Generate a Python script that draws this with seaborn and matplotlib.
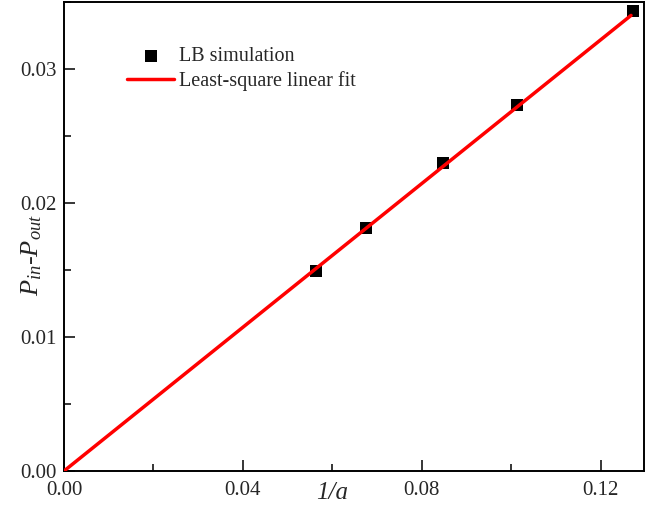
import numpy as np
import pandas as pd
import matplotlib
matplotlib.use("Agg")
import matplotlib.pyplot as plt
import seaborn as sns
from matplotlib.ticker import MultipleLocator

sns.set_style("ticks")
plt.rcParams["font.family"] = ["Liberation Serif", "DejaVu Serif"]
plt.rcParams["mathtext.fontset"] = "custom"
plt.rcParams["mathtext.rm"] = "Liberation Serif"
plt.rcParams["mathtext.it"] = "Liberation Serif:italic"

# LB simulation points
inv_a = [0.0563, 0.0675, 0.0848, 0.1012, 0.1272]
dp = [0.0149, 0.0181, 0.0230, 0.0273, 0.0343]

# least-square linear fit line end points
fit_x = [0.0, 0.1268]
fit_y = [0.0, 0.0340]

pts = pd.DataFrame({"x": inv_a, "y": dp})
fit = pd.DataFrame({"x": fit_x, "y": fit_y})

fig = plt.figure(figsize=(6.55, 5.11), dpi=100)
ax = fig.add_axes([64 / 655, 1 - 471 / 511, 580 / 655, 469 / 511])

sns.scatterplot(data=pts, x="x", y="y", marker="s", s=70, color="black",
                edgecolor="black", linewidth=0, ax=ax, label="LB simulation", zorder=2)
sns.lineplot(data=fit, x="x", y="y", color="red", linewidth=2.5, ax=ax,
             label="Least-square linear fit", zorder=3)

ax.set_xlim(0, 0.1297)
ax.set_ylim(0, 0.035)
ax.xaxis.set_major_locator(MultipleLocator(0.04))
ax.xaxis.set_minor_locator(MultipleLocator(0.02))
ax.yaxis.set_major_locator(MultipleLocator(0.01))
ax.yaxis.set_minor_locator(MultipleLocator(0.005))
ax.xaxis.set_major_formatter(plt.FormatStrFormatter("%.2f"))
ax.yaxis.set_major_formatter(plt.FormatStrFormatter("%.2f"))
ax.tick_params(which="major", direction="in", length=8, width=1.3, labelsize=15,
               top=False, right=False)
ax.tick_params(axis="x", which="major", pad=7)
ax.tick_params(axis="y", which="major", pad=5)
ax.tick_params(which="minor", direction="in", length=5, width=1.3,
               top=False, right=False)
for sp in ax.spines.values():
    sp.set_linewidth(1.4)
    sp.set_color("black")

ax.set_xlabel("1/a", fontsize=18, style="italic")
ax.set_ylabel(r"$P_{in}$-$P_{out}$", fontsize=19)
ax.xaxis.set_label_coords(0.462, -0.024)
ax.yaxis.set_label_coords(-0.035, 0.46)

ax.legend(loc="upper left", bbox_to_anchor=(0.078, 0.943), frameon=False,
          fontsize=14.5, handlelength=2.3, handletextpad=0.25, labelspacing=0.25)

fig.savefig("out.png", dpi=100)
